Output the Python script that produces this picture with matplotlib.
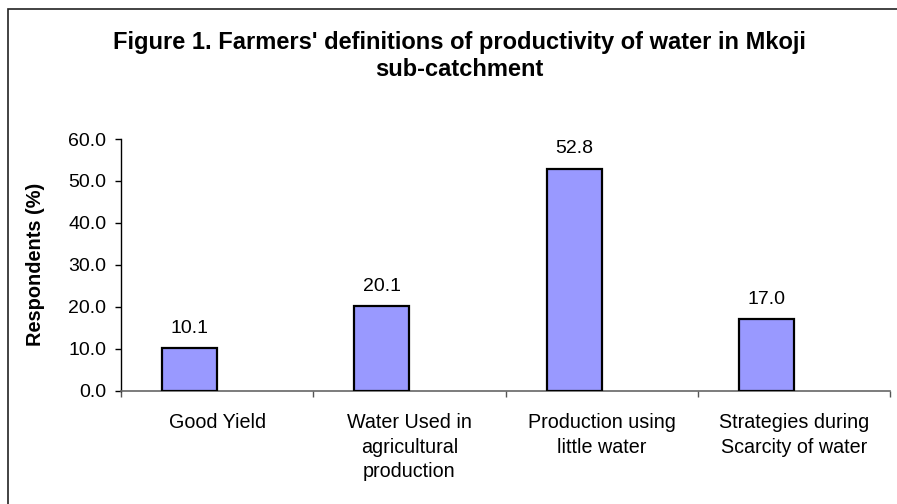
import matplotlib
matplotlib.use("Agg")
import matplotlib.pyplot as plt
from matplotlib.patches import Rectangle
from matplotlib.ticker import FormatStrFormatter
import numpy as np

categories = ["Good Yield", "Water Used in\nagricultural\nproduction",
              "Production using\nlittle water", "Strategies during\nScarcity of water"]
respondents_pct = [10.1, 20.1, 52.8, 17.0]
title = "Figure 1. Farmers' definitions of productivity of water in Mkoji\nsub-catchment"
ylabel = "Respondents (%)"

W, H, DPI = 897, 504, 100
plt.rcParams["font.family"] = ["Liberation Sans", "DejaVu Sans"]

fig = plt.figure(figsize=(W / DPI, H / DPI), dpi=DPI)
fig.patch.set_facecolor("white")

# chart frame (top and left edges visible)
frame = Rectangle((8 / W, -0.5), 2.0, 1.5 - 9 / H, transform=fig.transFigure,
                  fill=False, edgecolor="#222222", linewidth=1.2, clip_on=False)
fig.add_artist(frame)

fig.text(459 / W, 1 - 31 / H, title, ha="center", va="top",
         fontsize=17, fontweight="bold", linespacing=1.2)

left, right = 121 / W, 890 / W
bottom, top = 1 - 390.7 / H, 1 - 139 / H
ax = fig.add_axes([left, bottom, right - left, top - bottom])

n = len(categories)
bar_w = 1 / 3.5
idx = np.arange(n)
xpos = idx + 0.75 * bar_w + bar_w / 2
bars = ax.bar(xpos, respondents_pct, width=bar_w, color="#9999FF",
              edgecolor="black", linewidth=1.6, zorder=3)

for x, v in zip(xpos, respondents_pct):
    ax.annotate(f"{v:.1f}", (x, v), xytext=(0, 8.5), textcoords="offset points",
                ha="center", va="bottom", fontsize=14)

ax.set_xlim(0, n)
ax.set_ylim(0, 60)
ax.set_yticks(np.arange(0, 61, 10))
ax.yaxis.set_major_formatter(FormatStrFormatter("%.1f"))

ax.set_xticks(np.arange(n + 1))
ax.set_xticklabels([])
ax.set_xticks(idx + 0.5, minor=True)
ax.set_xticklabels(categories, minor=True, fontsize=14.2, linespacing=1.38)
ax.tick_params(axis="x", which="major", direction="out", length=4, width=1, color="#555555")
ax.tick_params(axis="x", which="minor", length=0, pad=16)
ax.tick_params(axis="y", direction="out", length=4.5, width=1, pad=6, labelsize=14)

for s in ("top", "right"):
    ax.spines[s].set_visible(False)
ax.spines["left"].set_color("black")
ax.spines["left"].set_linewidth(1)
ax.spines["bottom"].set_color("#666666")
ax.spines["bottom"].set_linewidth(1.2)

ax.set_ylabel(ylabel, fontsize=14.4, fontweight="bold")
ax.yaxis.set_label_coords(-0.0988, 0.5)

fig.savefig("out.png", dpi=DPI)
